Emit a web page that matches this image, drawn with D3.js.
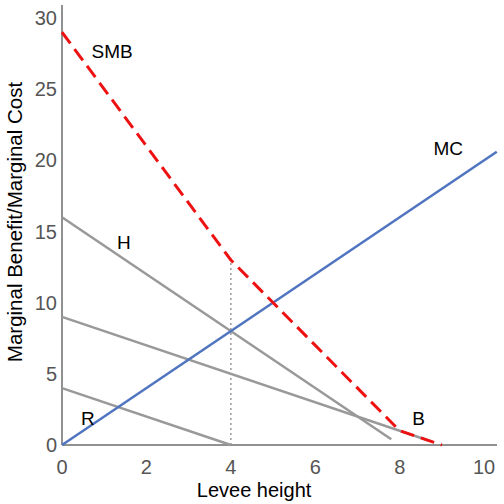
<!DOCTYPE html><html><head><script src="https://cdn.jsdelivr.net/npm/d3@7"></script>
<style>body{margin:0}text{font-family:"Liberation Sans",Arial,sans-serif}</style></head><body>
<svg id="c" width="504" height="504"></svg>
<script>
const xTicks=[0,2,4,6,8,10], yTicks=[0,5,10,15,20,25,30];
const mc=[[0,0],[10.3,20.6]];
const hLine=[[0,16],[7.8,0.4]];
const bLine=[[0,9],[8.7,0.3]];
const rLine=[[0,4],[4,0]];
const smb=[[0,29],[4,13],[8,1],[9,0]];
const dotted=[[4,0],[4,13]];
const labels=[["SMB",0.7,27.2],["MC",8.8,20.4],["H",1.3,13.8],["B",8.3,1.4],["R",0.45,1.4]];
const svg=d3.select("#c");
const x=d3.scaleLinear().domain([0,10.4]).range([62,501]);
const y=d3.scaleLinear().domain([0,30]).range([445,18]);
const line=d3.line().x(d=>x(d[0])).y(d=>y(d[1]));
svg.append("line").attr("x1",62).attr("x2",497).attr("y1",445).attr("y2",445).attr("stroke","#222");
svg.append("line").attr("x1",62).attr("x2",62).attr("y1",5).attr("y2",445).attr("stroke","#222");
svg.selectAll(".xt").data(xTicks).join("text").attr("x",d=>x(d)).attr("y",474).attr("text-anchor","middle").attr("font-size",20).attr("fill","#555").text(d=>d);
svg.selectAll(".yt").data(yTicks).join("text").attr("x",57).attr("y",d=>y(d)+7).attr("text-anchor","end").attr("font-size",20).attr("fill","#555").text(d=>d);
svg.append("text").attr("x",x(4.55)).attr("y",497).attr("text-anchor","middle").attr("font-size",20).text("Levee height");
svg.append("text").attr("transform","translate(22,222) rotate(-90)").attr("text-anchor","middle").attr("font-size",20.5).text("Marginal Benefit/Marginal Cost");
[hLine,bLine,rLine].forEach(l=>svg.append("path").attr("d",line(l)).attr("stroke","#999").attr("stroke-width",2.5).attr("fill","none"));
svg.append("path").attr("d",line(dotted)).attr("stroke","#999").attr("stroke-width",1.5).attr("stroke-dasharray","2,3").attr("fill","none");
svg.append("path").attr("d",line(mc)).attr("stroke","#4f74c0").attr("stroke-width",2.5).attr("fill","none");
svg.append("path").attr("d",line(smb)).attr("stroke","#ee1111").attr("stroke-width",3).attr("stroke-dasharray","14,7").attr("fill","none");
svg.selectAll(".lb").data(labels).join("text").attr("x",d=>x(d[1])).attr("y",d=>y(d[2])).attr("font-size",19).text(d=>d[0]);
</script></body></html>
